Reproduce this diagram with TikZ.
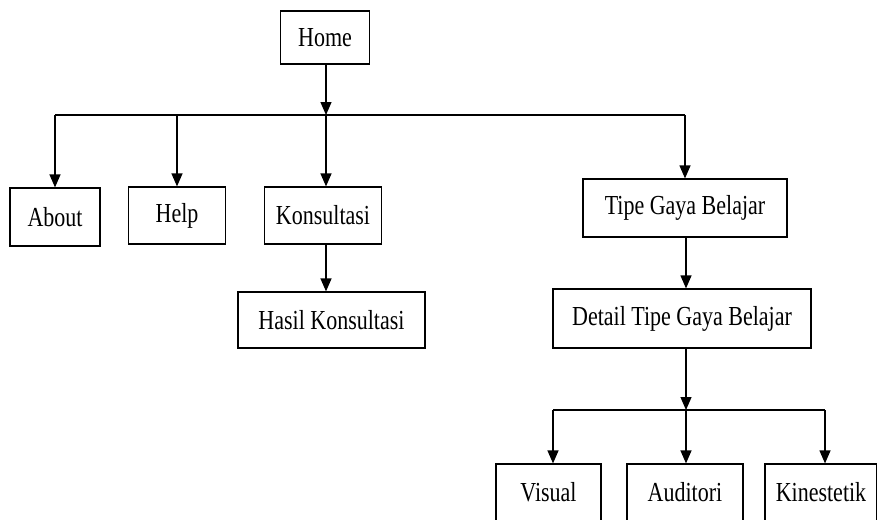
\documentclass[tikz,border=0pt]{standalone}
\usepackage{fontspec}
\setmainfont{Liberation Serif}
\usepackage{tikz}
\usetikzlibrary{positioning,calc,arrows.meta}
\newcommand{\boxtext}[1]{\scalebox{1}[1.25]{#1}}

\begin{document}
\begin{tikzpicture}[
    x=1pt,y=-1pt,
    menubox/.style={draw=black,fill=white,line width=1.2pt,align=center,inner sep=0pt,font=\fontsize{22}{26}\selectfont},
    link/.style={draw=black,line width=1.2pt},
    linkArrow/.style={link,-{Triangle[length=13pt,width=11pt]}}
]
\useasboundingbox (0,0) rectangle (877,519);
\clip (0,0) rectangle (877,519);
% top level
\node[menubox,minimum width=89pt,minimum height=53pt] (home) at (325,37.5) {\boxtext{Home}};
\coordinate (hub) at (326,115);
\coordinate (busLeft) at (55,115);
\coordinate (busRight) at (685,115);
\node[menubox,minimum width=90pt,minimum height=58pt] (about) at (55,217) {\boxtext{About}};
\node[menubox,minimum width=97pt,minimum height=57pt] (help) at (177,215.5) {\boxtext{Help}};
\node[menubox,minimum width=117pt,minimum height=57pt] (konsultasi) at (323,215.5) {\boxtext{Konsultasi}};
\node[menubox,minimum width=187pt,minimum height=56pt] (hasil) at (331.5,320) {\boxtext{Hasil Konsultasi}};
\node[menubox,minimum width=204pt,minimum height=58pt] (tipe) at (685,208) {\boxtext{Tipe Gaya Belajar}};
\node[menubox,minimum width=258pt,minimum height=59pt] (detail) at (682,318.5) {\boxtext{Detail Tipe Gaya Belajar}};
% gaya belajar
\coordinate (hubGaya) at (686,410);
\coordinate (gayaLeft) at (553,410);
\coordinate (gayaRight) at (825,410);
\node[menubox,minimum width=105pt,minimum height=72pt] (visual) at (548.5,500) {\raisebox{16pt}{\boxtext{Visual}}};
\node[menubox,minimum width=116pt,minimum height=72pt] (auditori) at (685,500) {\raisebox{16pt}{\boxtext{Auditori}}};
\node[menubox,minimum width=112pt,minimum height=72pt] (kinestetik) at (821,500) {\raisebox{16pt}{\boxtext{Kinestetik}}};
% connectors
\draw[linkArrow] (home.south -| hub) -- (hub);
\draw[link] (busLeft) -- (busRight);
\draw[linkArrow] (busLeft) -- (busLeft |- about.north);
\draw[linkArrow] (busLeft -| help) -- (help.north);
\draw[linkArrow] (hub) -- (hub |- konsultasi.north);
\draw[linkArrow] (busRight) -- (busRight |- tipe.north);
\draw[linkArrow] (hub |- konsultasi.south) -- (hub |- hasil.north);
\draw[linkArrow] (tipe.south -| hubGaya) -- (hubGaya |- detail.north);
\draw[linkArrow] (detail.south -| hubGaya) -- (hubGaya);
\draw[link] (gayaLeft) -- (gayaRight);
\draw[linkArrow] (gayaLeft) -- (gayaLeft |- visual.north);
\draw[linkArrow] (hubGaya) -- (hubGaya |- auditori.north);
\draw[linkArrow] (gayaRight) -- (gayaRight |- kinestetik.north);
\end{tikzpicture}
\end{document}
